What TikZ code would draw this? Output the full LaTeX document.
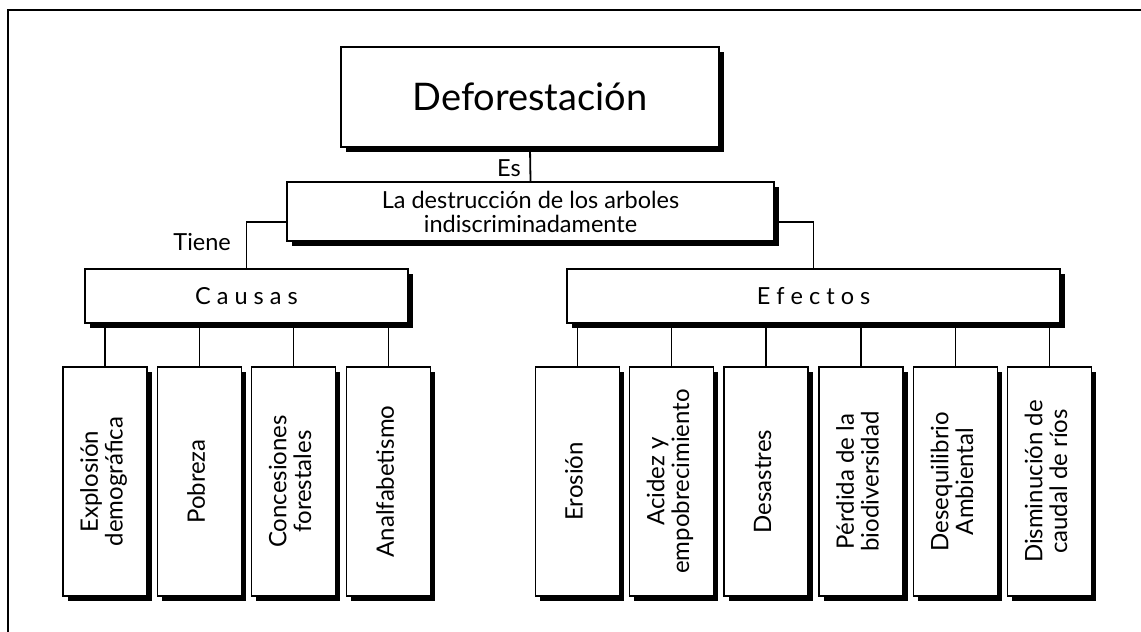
\documentclass[tikz,border=0pt]{standalone}
\usepackage{fontspec}
\usepackage{graphicx}
\setmainfont{Lato}
\usetikzlibrary{shadows}
\newcommand{\vlab}[1]{\rotatebox{90}{\fontsize{24}{23.5}\selectfont\begin{tabular}{@{}c@{}}#1\end{tabular}}}
\begin{document}
\begin{tikzpicture}[x=1pt,y=-1pt,
  box/.style={draw=black, line width=1.9pt, fill=white, inner sep=0pt, align=center,
    drop shadow={shadow xshift=4.5pt, shadow yshift=-4.5pt, fill=black, opacity=1}},
  leaf/.style={box, minimum width=84pt, minimum height=229pt},
  conn/.style={line width=1.8pt},
  sm/.style={font=\fontsize{23.5}{24}\selectfont},
  lbl/.style={inner sep=0pt, sm}]
\useasboundingbox (0,0) rectangle (1141,632);
\fill[white] (0,0) rectangle (1141,632);
\draw[line width=2pt] (8,632) -- (8,10) -- (1141,10);

\node[box, minimum width=378pt, minimum height=100pt, font=\fontsize{38}{40}\selectfont] (def) at (530,97) {Deforestación};
\node[box, minimum width=487pt, minimum height=59pt, sm] (des) at (530.5,211.5) {La destrucción de los arboles\\indiscriminadamente};
\node[box, minimum width=323pt, minimum height=54pt, sm] (causas) at (246.5,296) {C a u s a s};
\node[box, minimum width=493pt, minimum height=54pt, sm] (efectos) at (813.5,296) {E f e c t o s};

\node[leaf] (c1) at (105,481.5) {\vlab{Explosión\\demográfica}};
\node[leaf] (c2) at (199.5,481.5) {\vlab{Pobreza}};
\node[leaf] (c3) at (293.5,481.5) {\vlab{Concesiones\\forestales}};
\node[leaf] (c4) at (388.5,481.5) {\vlab{Analfabetismo}};

\node[leaf] (e1) at (577.5,481.5) {\vlab{Erosión}};
\node[leaf] (e2) at (671.5,481.5) {\vlab{Acidez y\\empobrecimiento}};
\node[leaf] (e3) at (766,481.5) {\vlab{Desastres}};
\node[leaf] (e4) at (861,481.5) {\vlab{Pérdida de la\\biodiversidad}};
\node[leaf] (e5) at (955.5,481.5) {\vlab{Desequilibrio\\Ambiental}};
\node[leaf] (e6) at (1049.5,481.5) {\vlab{Disminución de\\caudal de ríos}};

\draw[conn] (def.south) -- (des.north);
\node[lbl, anchor=base east] (es) at (521,176) {Es};
\draw[conn] ([yshift=-10.5pt]des.west) -| (causas.north);
\draw[conn] ([yshift=-10.5pt]des.east) -| (efectos.north);
\node[lbl, anchor=base east] (tiene) at (231,250) {Tiene};
\foreach \n in {c1,c2,c3,c4} \draw[conn] (\n.north) -- (\n.north |- causas.south);
\foreach \n in {e1,e2,e3,e4,e5,e6} \draw[conn] (\n.north) -- (\n.north |- efectos.south);
\end{tikzpicture}
\end{document}
